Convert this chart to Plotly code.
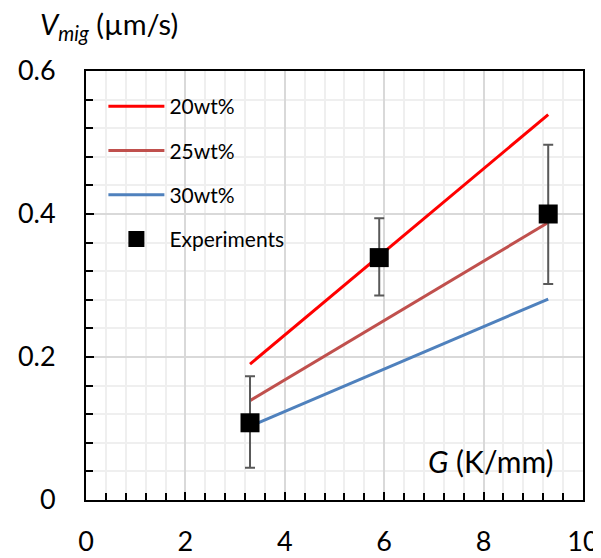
import plotly.graph_objects as go

# data
g_line = [3.3, 9.3]
v_20 = [0.19, 0.539]
v_25 = [0.139, 0.388]
v_30 = [0.103, 0.281]

g_exp = [3.3, 5.9, 9.3]
v_exp = [0.108, 0.339, 0.400]
err_plus = [0.065, 0.055, 0.097]
err_minus = [0.063, 0.053, 0.098]

x_ticks = [0, 2, 4, 6, 8, 10]
y_ticks = [0, 0.2, 0.4, 0.6]
y_tick_text = ["0", "0.2", "0.4", "0.6"]

FONT = "Lato, Carlito, Calibri, sans-serif"

fig = go.Figure()
fig.add_trace(go.Scatter(x=g_line, y=v_20, mode="lines", name="20wt%", legendgroup="a",
                         line=dict(color="#FF0000", width=3)))
fig.add_trace(go.Scatter(x=g_line, y=v_25, mode="lines", name="25wt%", legendgroup="b",
                         line=dict(color="#C0504D", width=3)))
fig.add_trace(go.Scatter(x=g_line, y=v_30, mode="lines", name="30wt%", legendgroup="c",
                         line=dict(color="#4F81BD", width=3)))
fig.add_trace(go.Scatter(x=g_exp, y=v_exp, mode="markers", name="Experiments", legendgroup="d",
                         marker=dict(symbol="square", color="black", size=19),
                         error_y=dict(type="data", symmetric=False, array=err_plus,
                                      arrayminus=err_minus, color="#595959",
                                      thickness=2, width=5)))

# the page body adds an 8px offset, so the figure is 8px smaller than the window
fig.update_layout(
    width=593, height=550,
    margin=dict(l=78, r=18, t=63, b=58),
    paper_bgcolor="white", plot_bgcolor="white",
    font=dict(family=FONT, color="black", size=27),
    showlegend=True,
    legend=dict(x=0.035, y=0.965, xanchor="left", yanchor="top",
                bgcolor="rgba(0,0,0,0)", font=dict(size=21, family=FONT),
                tracegroupgap=14, itemwidth=56),
    xaxis=dict(range=[0, 10], tickvals=x_ticks, ticks="inside", ticklen=8,
               tickwidth=2, tickcolor="black", automargin=False,
               showline=True, linecolor="black", linewidth=2, mirror=True,
               showgrid=True, gridcolor="#D9D9D9", gridwidth=1.5, zeroline=False,
               ticklabelstandoff=17,
               minor=dict(dtick=0.4, ticks="inside", ticklen=7, tickwidth=2,
                          tickcolor="black", showgrid=True, gridcolor="#EFEFEF",
                          gridwidth=1.5),
               tickfont=dict(size=27)),
    yaxis=dict(range=[0, 0.6], tickvals=y_ticks, ticktext=y_tick_text,
               ticks="inside", ticklen=8, tickwidth=2, tickcolor="black",
               automargin=False,
               showline=True, linecolor="black", linewidth=2, mirror=True,
               showgrid=True, gridcolor="#D9D9D9", gridwidth=1.5, zeroline=False,
               ticklabelstandoff=23,
               minor=dict(dtick=0.04, ticks="inside", ticklen=7, tickwidth=2,
                          tickcolor="black", showgrid=True, gridcolor="#EFEFEF",
                          gridwidth=1.5),
               tickfont=dict(size=27)),
    annotations=[
        dict(text="<i>V</i><sub><i>mig</i></sub> (µm/s)", xref="paper", yref="paper",
             x=-0.097, y=1.105, xanchor="left", yanchor="middle", showarrow=False,
             font=dict(size=29, family=FONT)),
        dict(text="<i>G</i> (K/mm)", xref="paper", yref="paper",
             x=0.945, y=0.09, xanchor="right", yanchor="middle", showarrow=False,
             font=dict(size=30, family=FONT)),
    ],
)

fig.write_html("out.html")
